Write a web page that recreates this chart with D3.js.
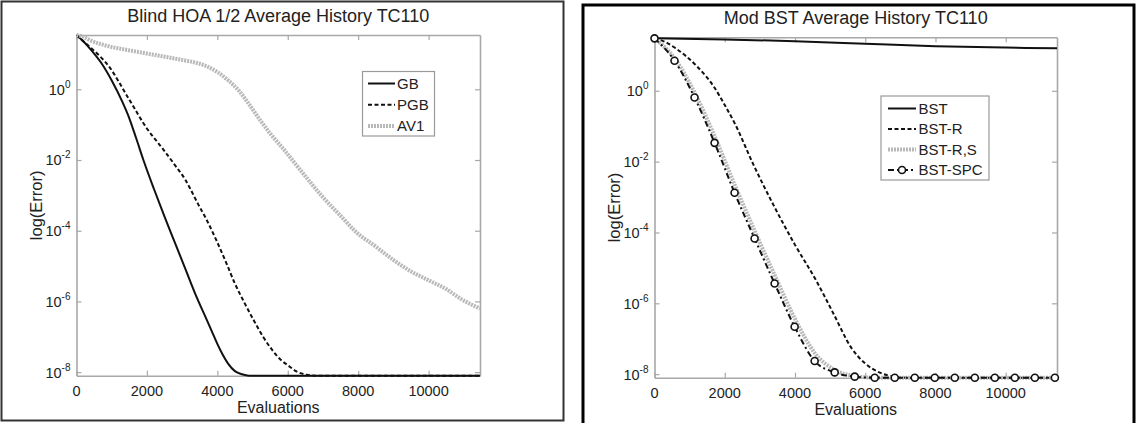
<!DOCTYPE html>
<html>
<head>
<meta charset="utf-8">
<script src="https://cdn.jsdelivr.net/npm/d3@7/dist/d3.min.js"></script>
<style>
  html, body { margin: 0; padding: 0; background: #fff; }
  svg { display: block; font-family: "Liberation Sans", Arial, sans-serif; }
</style>
</head>
<body>
<svg id="chart" width="1138" height="423"></svg>
<script>
// ---- Blind HOA 1/2 panel: evaluations and log10(error) per method ----
const gbEvals  = [0, 200, 400, 700, 1000, 1300, 1500, 1700, 1900, 2200, 2500, 2800, 3100, 3400, 3700, 3850, 4000, 4150, 4300, 4500, 4700, 4900, 11460];
const gbLogErr = [1.535, 1.35, 1.13, 0.75, 0.25, -0.35, -0.82, -1.4, -2.0, -2.82, -3.6, -4.35, -5.1, -5.85, -6.52, -6.86, -7.2, -7.5, -7.75, -7.97, -8.06, -8.1, -8.1];

const pgbEvals  = [0, 200, 434, 926, 1473, 2029, 2425, 2800, 3087, 3250, 3439, 3700, 3968, 4250, 4497, 4750, 5026, 5300, 5556, 5800, 5997, 6250, 6526, 6800, 11460];
const pgbLogErr = [1.535, 1.35, 1.15, 0.64, -0.25, -1.15, -1.65, -2.15, -2.55, -2.85, -3.22, -3.7, -4.26, -4.9, -5.49, -6.0, -6.52, -7.0, -7.37, -7.65, -7.8, -7.98, -8.07, -8.1, -8.1];

const av1Evals  = [0, 150, 397, 900, 1455, 2000, 2513, 3000, 3395, 3700, 4012, 4300, 4630, 4900, 5200, 5500, 5820, 6386, 6953, 7616, 7900, 8500, 9032, 9500, 9976, 10500, 10921, 11460];
const av1LogErr = [1.535, 1.5, 1.38, 1.22, 1.11, 1.01, 0.92, 0.83, 0.75, 0.65, 0.48, 0.26, -0.06, -0.42, -0.85, -1.25, -1.62, -2.32, -3.0, -3.7, -4.0, -4.45, -4.85, -5.15, -5.39, -5.65, -5.93, -6.2];

// ---- Mod BST panel ----
const bstEvals  = [0, 2000, 4000, 6000, 8000, 10000, 11460];
const bstLogErr = [1.48, 1.45, 1.40, 1.33, 1.26, 1.22, 1.2];

const bstREvals  = [0, 300, 600, 1200, 1700, 2000, 2300, 2800, 3400, 4000, 4600, 5100, 5600, 6000, 6400, 6800, 7200, 11460];
const bstRLogErr = [1.48, 1.38, 1.2, 0.7, 0.1, -0.4, -0.95, -2.05, -3.25, -4.35, -5.35, -6.3, -7.25, -7.7, -7.95, -8.07, -8.1, -8.1];

const bstRSEvals  = [0, 570, 1140, 1710, 2280, 2850, 3420, 3990, 4560, 5130, 5700, 6270, 11460];
const bstRSLogErr = [1.48, 0.92, -0.05, -1.28, -2.65, -3.95, -5.2, -6.42, -7.4, -7.88, -8.05, -8.1, -8.1];

const spcEvals  = [0, 570, 1140, 1710, 2280, 2850, 3420, 3990, 4560, 5130, 5700, 6270, 6840, 7410, 7980, 8550, 9120, 9690, 10260, 10830, 11400, 11460];
const spcLogErr = [1.48, 0.85, -0.19, -1.47, -2.88, -4.17, -5.44, -6.66, -7.63, -7.95, -8.07, -8.1, -8.1, -8.1, -8.1, -8.1, -8.1, -8.1, -8.1, -8.1, -8.1, -8.1];

// ---- Axis ticks and labels ----
const xTicks = [0, 2000, 4000, 6000, 8000, 10000];
const yTickExps = [0, -2, -4, -6, -8];
const xMax = 11460;
const xLabel = "Evaluations";
const yLabel = "log(Error)";

const leftTitle = "Blind HOA 1/2 Average History TC110";
const rightTitle = "Mod BST Average History TC110";
const leftNames = ["GB", "PGB", "AV1"];
const rightNames = ["BST", "BST-R", "BST-R,S", "BST-SPC"];

// Line styles
const styles = {
  solid:  { stroke: "#111", width: 2, dash: null },
  dashed: { stroke: "#111", width: 2, dash: "4,2.5" },
  gray:   { stroke: "#b8b8b8", width: 4, dash: "2,1" },
  spc:    { stroke: "#111", width: 2, dash: "6,3,2,3" }
};

const svg = d3.select("#chart");
const textColor = "#222";
const axisColor = "#a8a8a8";

function zip(xs, es) { return xs.map((x, i) => ({ x: x, e: Math.pow(10, es[i]) })); }

function drawPanel(p) {
  const g = svg.append("g");
  // panel frame
  g.append("rect")
    .attr("x", p.frame[0]).attr("y", p.frame[1])
    .attr("width", p.frame[2]).attr("height", p.frame[3])
    .attr("fill", "none").attr("stroke", p.frameColor).attr("stroke-width", p.frameWidth);

  const x = d3.scaleLinear().domain([0, xMax]).range([p.left, p.right]);
  const y = d3.scaleLog().domain([Math.pow(10, p.yMin), Math.pow(10, p.yMax)]).range([p.bottom, p.top]);

  // axes box with inward ticks on all sides
  const tickLen = 5;
  const yTickVals = yTickExps.map(v => Math.pow(10, v));
  const axes = [
    { ax: d3.axisBottom(x).tickValues(xTicks), tr: `translate(0,${p.bottom})` },
    { ax: d3.axisTop(x).tickValues(xTicks), tr: `translate(0,${p.top})` },
    { ax: d3.axisLeft(y).tickValues(yTickVals), tr: `translate(${p.left},0)` },
    { ax: d3.axisRight(y).tickValues(yTickVals), tr: `translate(${p.right},0)` }
  ];
  axes.forEach(a => {
    const ag = g.append("g").attr("transform", a.tr)
      .call(a.ax.tickSizeInner(-tickLen).tickSizeOuter(0).tickFormat(""));
    ag.select(".domain").attr("stroke", axisColor).attr("stroke-width", 1.6);
    ag.selectAll(".tick line").attr("stroke", axisColor).attr("stroke-width", 1.2);
  });

  // x tick labels
  g.selectAll(null).data(xTicks).enter().append("text")
    .attr("x", d => x(d)).attr("y", p.bottom + 20)
    .attr("text-anchor", "middle").attr("font-size", 14.5).attr("fill", textColor)
    .text(d => d);

  // y tick labels with superscript exponent
  yTickExps.forEach(ex => {
    const t = g.append("text")
      .attr("x", p.left - 6).attr("y", y(Math.pow(10, ex)) + 5.5)
      .attr("text-anchor", "end").attr("font-size", 14.5).attr("fill", textColor);
    t.append("tspan").text("10");
    t.append("tspan").attr("dy", -7).attr("font-size", 10).text(String(ex));
  });

  // titles and axis labels
  g.append("text").attr("x", (p.left + p.right) / 2).attr("y", p.titleY)
    .attr("text-anchor", "middle").attr("font-size", 18).attr("fill", textColor).text(p.title);
  g.append("text").attr("x", (p.left + p.right) / 2).attr("y", p.bottom + 37)
    .attr("text-anchor", "middle").attr("font-size", 16).attr("fill", textColor).text(xLabel);
  g.append("text")
    .attr("transform", `translate(${p.left - 35},${(p.top + p.bottom) / 2}) rotate(-90)`)
    .attr("text-anchor", "middle").attr("font-size", 16.5).attr("fill", textColor).text(yLabel);

  // series
  const line = d3.line().x(d => x(d.x)).y(d => y(d.e)).curve(d3.curveMonotoneX);
  const plot = g.append("g");
  p.series.forEach(s => {
    const st = styles[s.style];
    plot.append("path").datum(zip(s.xs, s.es))
      .attr("d", line).attr("fill", "none")
      .attr("stroke", st.stroke).attr("stroke-width", st.width)
      .attr("stroke-dasharray", st.dash)
      .attr("stroke-linejoin", "round");
    if (s.markers) {
      plot.selectAll(null).data(zip(s.xs, s.es).filter(d => d.x <= s.markerMax)).enter()
        .append("circle")
        .attr("cx", d => x(d.x)).attr("cy", d => y(d.e)).attr("r", 3.5)
        .attr("fill", "#fff").attr("stroke", "#111").attr("stroke-width", 1.6);
    }
  });

  // legend
  const L = p.legend;
  g.append("rect").attr("x", L.x).attr("y", L.y).attr("width", L.w).attr("height", L.h)
    .attr("fill", "#fff").attr("stroke", "#9a9a9a").attr("stroke-width", 1.2);
  p.series.forEach((s, i) => {
    const st = styles[s.style];
    const cy = L.firstY + i * L.step;
    g.append("line").attr("x1", L.lineX0).attr("x2", L.lineX1).attr("y1", cy).attr("y2", cy)
      .attr("stroke", st.stroke).attr("stroke-width", st.width).attr("stroke-dasharray", st.dash);
    if (s.markers) {
      g.append("circle").attr("cx", (L.lineX0 + L.lineX1) / 2).attr("cy", cy).attr("r", 3.5)
        .attr("fill", "#fff").attr("stroke", "#111").attr("stroke-width", 1.6);
    }
    g.append("text").attr("x", L.textX).attr("y", cy + 5.3)
      .attr("font-size", 15).attr("fill", textColor).text(s.name);
  });
}

drawPanel({
  frame: [1.5, 1.5, 562, 419], frameColor: "#333", frameWidth: 2,
  left: 76.5, right: 480, top: 35, bottom: 375.7,
  yMin: -8.1, yMax: 1.535, titleY: 22, title: leftTitle,
  series: [
    { name: leftNames[0], xs: gbEvals, es: gbLogErr, style: "solid" },
    { name: leftNames[1], xs: pgbEvals, es: pgbLogErr, style: "dashed" },
    { name: leftNames[2], xs: av1Evals, es: av1LogErr, style: "gray" }
  ],
  legend: { x: 362.5, y: 71.5, w: 72, h: 64.5, firstY: 83.5, step: 21.3, lineX0: 368, lineX1: 395, textX: 397 }
});

drawPanel({
  frame: [583, 5, 551, 422], frameColor: "#000", frameWidth: 3,
  left: 654.5, right: 1057, top: 37.3, bottom: 377.7,
  yMin: -8.1, yMax: 1.51, titleY: 24, title: rightTitle,
  series: [
    { name: rightNames[0], xs: bstEvals, es: bstLogErr, style: "solid" },
    { name: rightNames[1], xs: bstREvals, es: bstRLogErr, style: "dashed" },
    { name: rightNames[2], xs: bstRSEvals, es: bstRSLogErr, style: "gray" },
    { name: rightNames[3], xs: spcEvals, es: spcLogErr, style: "spc", markers: true, markerMax: 11400 }
  ],
  legend: { x: 881, y: 96, w: 108, h: 84, firstY: 108.5, step: 20.5, lineX0: 888, lineX1: 916, textX: 918.5 }
});
</script>
</body>
</html>
